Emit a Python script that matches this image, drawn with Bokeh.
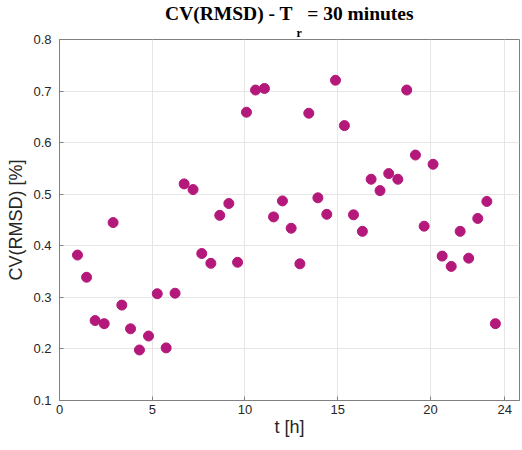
from bokeh.plotting import figure
from bokeh.models import Range1d, FixedTicker, Title
from bokeh.embed import file_html
from bokeh.resources import INLINE

# time of day [h]
t_h = [0.97, 1.46, 1.92, 2.41, 2.89, 3.36, 3.83, 4.31, 4.80, 5.27, 5.75, 6.23,
       6.72, 7.20, 7.67, 8.16, 8.64, 9.13, 9.60, 10.08, 10.57, 11.05, 11.54, 12.02,
       12.49, 12.96, 13.44, 13.93, 14.41, 14.88, 15.36, 15.85, 16.33, 16.80, 17.28, 17.75,
       18.24, 18.72, 19.19, 19.66, 20.14, 20.63, 21.12, 21.60, 22.06, 22.55, 23.04, 23.50]
# CV(RMSD) [%]
cv_rmsd = [0.382, 0.339, 0.255, 0.249, 0.445, 0.285, 0.239, 0.198, 0.225, 0.307, 0.202, 0.308,
           0.520, 0.509, 0.385, 0.366, 0.459, 0.482, 0.368, 0.659, 0.702, 0.705, 0.456, 0.487,
           0.434, 0.365, 0.657, 0.493, 0.461, 0.721, 0.633, 0.460, 0.428, 0.529, 0.507, 0.540,
           0.529, 0.702, 0.576, 0.438, 0.558, 0.380, 0.360, 0.428, 0.376, 0.453, 0.486, 0.249]
x_ticks = [0, 5, 10, 15, 20, 24]
y_ticks = [0.1, 0.2, 0.3, 0.4, 0.5, 0.6, 0.7, 0.8]

AX = "#808080"
TXT = "#262626"

p = figure(frame_width=460, frame_height=361, title=None,
           output_backend="svg", toolbar_location=None,
           x_range=Range1d(0, 24.8), y_range=Range1d(0.1, 0.8),
           min_border_left=59, min_border_right=1, min_border_top=39, min_border_bottom=41,
           background_fill_color="white", border_fill_color="white")

p.scatter(t_h, cv_rmsd, size=10, color="#B3187A", line_color="#B3187A")

p.outline_line_color = AX
p.outline_line_width = 1

for ax in (p.xaxis[0], p.yaxis[0]):
    ax.axis_line_color = AX
    ax.major_tick_line_color = AX
    ax.major_tick_in = 4
    ax.major_tick_out = 0
    ax.minor_tick_line_color = None
    ax.major_label_text_font = "Liberation Sans"
    ax.major_label_text_font_size = "13px"
    ax.major_label_text_color = TXT
    ax.axis_label_text_font = "Liberation Sans"
    ax.axis_label_text_font_size = "18px"
    ax.axis_label_text_font_style = "normal"
    ax.axis_label_text_color = TXT

p.xaxis.ticker = FixedTicker(ticks=x_ticks)
p.yaxis.ticker = FixedTicker(ticks=y_ticks)
p.xaxis.major_label_standoff = 4
p.yaxis.major_label_standoff = 8
p.xaxis.axis_label = "t [h]"
p.yaxis.axis_label = "CV(RMSD) [%]"
p.xaxis.axis_label_standoff = 0
p.yaxis.axis_label_standoff = 4

p.xgrid.grid_line_color = "#e6e6e6"
p.ygrid.grid_line_color = "#e6e6e6"

# title: main line plus the subscript "r" on its own row just below it
font = "Liberation Serif"
sub = Title(text="r", align="left", offset=237, standoff=0,
            text_font=font, text_font_style="bold", text_font_size="12px",
            text_color="black")
main = Title(text="CV(RMSD) - T\u00a0\u00a0\u00a0= 30 minutes", align="center", standoff=0,
             text_font=font, text_font_style="bold", text_font_size="19.5px",
             text_color="black")
p.add_layout(sub, "above")
p.add_layout(main, "above")

open("out.html", "w").write(file_html(p, INLINE))
